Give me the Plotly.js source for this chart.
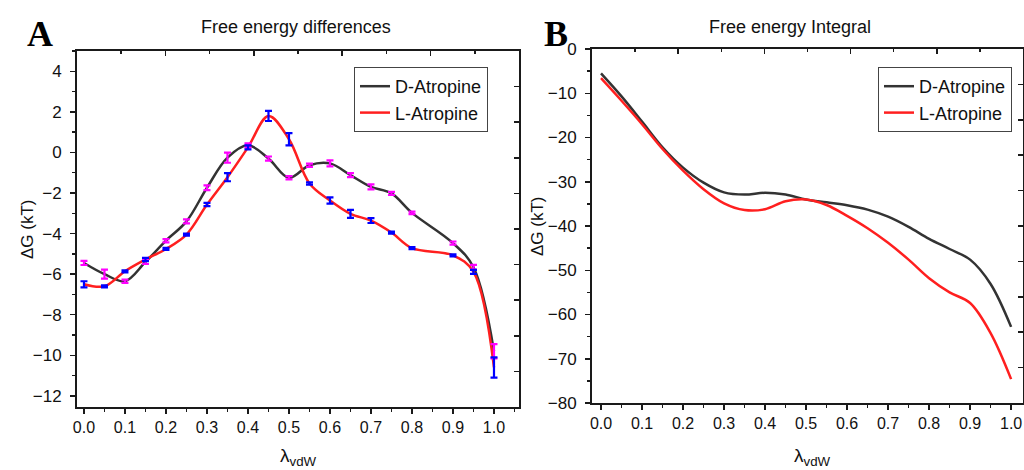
<!DOCTYPE html>
<html>
<head>
<meta charset="utf-8">
<script src="https://cdn.plot.ly/plotly-3.0.1.min.js"></script>
<style>html,body{margin:0;padding:0;background:#fff;}#chart{width:1024px;height:470px;}</style>
</head>
<body>
<div id="chart"></div>
<script>
// Panel A: free energy differences (per lambda window)
const lambdaA = [0.0, 0.05, 0.10, 0.15, 0.20, 0.25, 0.30, 0.35, 0.40, 0.45, 0.50, 0.55, 0.60, 0.65, 0.70, 0.75, 0.80, 0.90, 0.95, 1.00];
const dDiff = [-5.45, -6.0, -6.35, -5.4, -4.35, -3.4, -1.74, -0.26, 0.35, -0.3, -1.25, -0.63, -0.54, -1.12, -1.7, -2.02, -2.98, -4.47, -5.66, -9.8];
const dErr  = [0.1, 0.22, 0.08, 0.1, 0.08, 0.1, 0.12, 0.25, 0.1, 0.1, 0.08, 0.08, 0.15, 0.1, 0.12, 0.08, 0.06, 0.08, 0.12, 0.35];
const lDiff = [-6.5, -6.6, -5.86, -5.28, -4.76, -4.05, -2.57, -1.22, 0.25, 1.8, 0.65, -1.53, -2.37, -3.03, -3.36, -3.95, -4.72, -5.07, -5.89, -10.6];
const lErr  = [0.15, 0.05, 0.05, 0.08, 0.05, 0.05, 0.08, 0.2, 0.1, 0.25, 0.3, 0.06, 0.15, 0.2, 0.12, 0.05, 0.05, 0.05, 0.1, 0.5];

// Panel B: free energy integral
const lambdaB = [0.0, 0.05, 0.10, 0.15, 0.20, 0.25, 0.30, 0.35, 0.40, 0.45, 0.50, 0.55, 0.60, 0.65, 0.70, 0.75, 0.80, 0.85, 0.90, 0.95, 1.00];
const dInt = [-5.5, -10.7, -16.4, -22.2, -26.8, -30.2, -32.4, -32.9, -32.5, -32.9, -34.0, -34.65, -35.3, -36.3, -37.9, -40.2, -42.9, -45.2, -47.6, -53.1, -62.8];
const lInt = [-6.6, -11.7, -17.0, -22.6, -27.5, -31.7, -34.9, -36.4, -36.2, -34.4, -34.0, -35.25, -37.7, -40.5, -43.8, -47.6, -51.8, -55.0, -57.4, -64.2, -74.6];

const seriesNames = ['D-Atropine', 'L-Atropine'];
const titles = ['Free energy differences', 'Free energy Integral'];
const panelLetters = ['A', 'B'];
const yTitle = 'ΔG (kT)';
const xTitle = 'λ<sub>vdW</sub>';

const BLACK = '#333333', RED = '#ff1f1f', MAG = '#ff00ff', BLUE = '#0000ff', AX = '#1a1a1a';
const FONT = 'Arial, "Liberation Sans", sans-serif';

const traces = [
  {x: lambdaA, y: dDiff, type: 'scatter', mode: 'lines', name: seriesNames[0], line: {color: BLACK, width: 2.5, shape: 'spline', smoothing: 1}, xaxis: 'x', yaxis: 'y', legend: 'legend'},
  {x: lambdaA, y: lDiff, type: 'scatter', mode: 'lines', name: seriesNames[1], line: {color: RED, width: 2.5, shape: 'spline', smoothing: 1}, xaxis: 'x', yaxis: 'y', legend: 'legend'},
  {x: lambdaA, y: dDiff, type: 'scatter', mode: 'markers', marker: {size: 1, color: 'rgba(0,0,0,0)'}, error_y: {type: 'data', array: dErr, visible: true, color: MAG, thickness: 2.2, width: 3.5}, showlegend: false, hoverinfo: 'skip', xaxis: 'x', yaxis: 'y'},
  {x: lambdaA, y: lDiff, type: 'scatter', mode: 'markers', marker: {size: 1, color: 'rgba(0,0,0,0)'}, error_y: {type: 'data', array: lErr, visible: true, color: BLUE, thickness: 2.2, width: 3.5}, showlegend: false, hoverinfo: 'skip', xaxis: 'x', yaxis: 'y'},
  {x: lambdaB, y: dInt, type: 'scatter', mode: 'lines', name: seriesNames[0], line: {color: BLACK, width: 2.5, shape: 'spline', smoothing: 1}, xaxis: 'x2', yaxis: 'y2', legend: 'legend2'},
  {x: lambdaB, y: lInt, type: 'scatter', mode: 'lines', name: seriesNames[1], line: {color: RED, width: 2.5, shape: 'spline', smoothing: 1}, xaxis: 'x2', yaxis: 'y2', legend: 'legend2'},
  // empty helpers so the inward-tick frame axes (top / right) get drawn
  {x: [], y: [], type: 'scatter', mode: 'lines', xaxis: 'x3', yaxis: 'y', showlegend: false, hoverinfo: 'skip'},
  {x: [], y: [], type: 'scatter', mode: 'lines', xaxis: 'x', yaxis: 'y3', showlegend: false, hoverinfo: 'skip'},
  {x: [], y: [], type: 'scatter', mode: 'lines', xaxis: 'x4', yaxis: 'y2', showlegend: false, hoverinfo: 'skip'},
  {x: [], y: [], type: 'scatter', mode: 'lines', xaxis: 'x2', yaxis: 'y4', showlegend: false, hoverinfo: 'skip'}
];

const W = 1024, H = 470;
const px = v => v / W;
const py = v => 1 - v / H;

function baseAxis(extra) {
  return Object.assign({
    showline: true, linecolor: AX, linewidth: 2, mirror: true,
    showgrid: false, zeroline: false,
    ticks: 'outside', ticklen: 5, tickwidth: 1.5, tickcolor: AX,
    tickfont: {size: 16, color: '#111', family: FONT},
    fixedrange: true
  }, extra);
}
function overlayAxis(extra) {
  return Object.assign({
    showline: false, showgrid: false, zeroline: false, showticklabels: false,
    ticks: 'inside', ticklen: 5, tickwidth: 1.5, tickcolor: AX, fixedrange: true
  }, extra);
}

const legendStyle = {
  xanchor: 'left', yanchor: 'top', bgcolor: 'white', bordercolor: '#444', borderwidth: 1,
  font: {size: 18, color: '#111', family: FONT}, tracegroupgap: 0
};

const annFont = {family: FONT, color: '#111'};
const ann = (x, y, text, size, extra) => Object.assign({
  xref: 'paper', yref: 'paper', x: px(x), y: py(y), text: text, showarrow: false,
  xanchor: 'center', yanchor: 'middle', font: Object.assign({}, annFont, {size: size})
}, extra || {});
const letterFont = {family: '"Liberation Serif", "Times New Roman", serif', size: 36, color: '#000'};

const layout = {
  width: W, height: H,
  margin: {l: 0, r: 0, t: 0, b: 0},
  paper_bgcolor: 'white', plot_bgcolor: 'white',
  font: annFont,
  showlegend: true,
  xaxis: baseAxis({domain: [px(77), px(519)], range: [-0.017, 1.061], anchor: 'y', tick0: 0, dtick: 0.1, tickformat: '.1f',
    minor: {dtick: 0.05, ticks: 'outside', ticklen: 3, tickwidth: 1.5, tickcolor: AX}}),
  yaxis: baseAxis({domain: [py(407), py(51)], range: [-12.55, 5.0], anchor: 'x', tick0: 0, dtick: 2, ticklabelstandoff: 5,
    tickfont: {size: 17, color: '#111', family: FONT},
    minor: {dtick: 1, ticks: 'outside', ticklen: 3, tickwidth: 1.5, tickcolor: AX}}),
  xaxis3: overlayAxis({overlaying: 'x', side: 'top', anchor: 'y', range: [0, 10], dtick: 2, tick0: 0,
    minor: {dtick: 1, ticks: 'inside', ticklen: 3, tickwidth: 1.5, tickcolor: AX}}),
  yaxis3: overlayAxis({overlaying: 'y', side: 'right', anchor: 'x', range: [0, 10], dtick: 1, tick0: 0}),
  xaxis2: baseAxis({domain: [px(592), px(1023)], range: [-0.022, 1.029], anchor: 'y2', tick0: 0, dtick: 0.1, tickformat: '.1f',
    minor: {dtick: 0.05, ticks: 'outside', ticklen: 3, tickwidth: 1.5, tickcolor: AX}}),
  yaxis2: baseAxis({domain: [py(403), py(49)], range: [-80, 0], anchor: 'x2', tick0: 0, dtick: 10, ticklabelstandoff: 5,
    tickfont: {size: 17, color: '#111', family: FONT},
    minor: {dtick: 5, ticks: 'outside', ticklen: 3, tickwidth: 1.5, tickcolor: AX}}),
  xaxis4: overlayAxis({overlaying: 'x2', side: 'top', anchor: 'y2', range: [0, 10], dtick: 2, tick0: 0,
    minor: {dtick: 1, ticks: 'inside', ticklen: 3, tickwidth: 1.5, tickcolor: AX}}),
  yaxis4: overlayAxis({overlaying: 'y2', side: 'right', anchor: 'x2', range: [0, 10], dtick: 1, tick0: 0}),
  legend: Object.assign({x: px(354), y: py(67)}, legendStyle),
  legend2: Object.assign({x: px(878), y: py(67)}, legendStyle),
  annotations: [
    ann(296, 27, titles[0], 18),
    ann(790, 27, titles[1], 18),
    ann(40, 34, '<b>' + panelLetters[0] + '</b>', 36, {font: letterFont}),
    ann(556, 34, '<b>' + panelLetters[1] + '</b>', 36, {font: letterFont}),
    ann(27, 229, yTitle, 17, {textangle: -90}),
    ann(538, 226, yTitle, 17, {textangle: -90}),
    ann(298, 457, xTitle, 19),
    ann(812, 457, xTitle, 19)
  ]
};

Plotly.newPlot('chart', traces, layout, {displayModeBar: false, staticPlot: true});
</script>
</body>
</html>
